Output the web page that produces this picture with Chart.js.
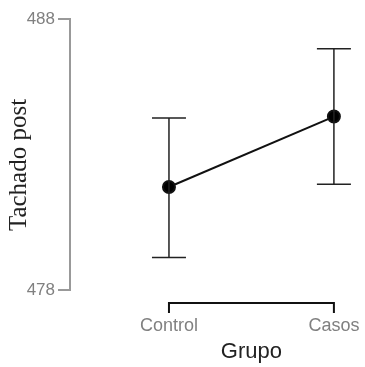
<!DOCTYPE html>
<html>
<head>
<meta charset="utf-8">
<script src="https://cdn.jsdelivr.net/npm/chart.js@4"></script>
<style>
  html, body { margin: 0; padding: 0; background: #fff; }
  #wrap { width: 365px; height: 367px; }
</style>
</head>
<body>
<div id="wrap"><canvas id="myChart"></canvas></div>
<script>
// groups and their means with the error bar limits
const grupos = ['Control', 'Casos'];
const medias = [481.8, 484.4];
const inferior = [479.2, 481.9];
const superior = [484.35, 486.9];
const yTicks = [478, 488];

// error bars, the bracket x axis and the free texts
const extras = {
    id: 'extras',
    afterDatasetsDraw(chart) {
        const ctx = chart.ctx;
        const x = chart.scales.x;
        const y = chart.scales.y;
        ctx.save();
        ctx.strokeStyle = '#222';
        ctx.lineWidth = 1.5;
        for (let i = 0; i < grupos.length; i++) {
            const px = x.getPixelForValue(i);
            const top = y.getPixelForValue(superior[i]);
            const bot = y.getPixelForValue(inferior[i]);
            ctx.beginPath();
            ctx.moveTo(px, top); ctx.lineTo(px, bot);
            ctx.moveTo(px - 17, top); ctx.lineTo(px + 17, top);
            ctx.moveTo(px - 17, bot); ctx.lineTo(px + 17, bot);
            ctx.stroke();
        }
        ctx.restore();
    },
    afterDraw(chart) {
        const ctx = chart.ctx;
        const x = chart.scales.x;
        const area = chart.chartArea;
        const x0 = x.getPixelForValue(0);
        const x1 = x.getPixelForValue(grupos.length - 1);
        const yb = area.bottom + 13;
        ctx.save();
        ctx.strokeStyle = '#111';
        ctx.lineWidth = 2;
        ctx.beginPath();
        ctx.moveTo(x0, yb + 10); ctx.lineTo(x0, yb); ctx.lineTo(x1, yb); ctx.lineTo(x1, yb + 10);
        ctx.stroke();

        ctx.fillStyle = '#222';
        ctx.font = '22px "Liberation Sans", Arial, sans-serif';
        ctx.textAlign = 'center';
        ctx.textBaseline = 'middle';
        ctx.fillText('Grupo', (x0 + x1) / 2, 352);

        ctx.translate(19, 165);
        ctx.rotate(-Math.PI / 2);
        ctx.font = '25px "Liberation Serif", "Times New Roman", serif';
        ctx.fillText('Tachado post', 0, 0);
        ctx.restore();
    }
};

const ctx = document.getElementById('myChart').getContext('2d');
const myChart = new Chart(ctx, {
    type: 'line',
    data: {
        datasets: [{
            data: medias.map((m, i) => ({ x: i, y: m })),
            borderColor: '#111',
            borderWidth: 2,
            backgroundColor: '#000',
            pointRadius: 6,
            pointHoverRadius: 6,
            clip: false
        }]
    },
    options: {
        responsive: true,
        maintainAspectRatio: false,
        animation: false,
        events: [],
        layout: { padding: { top: 19, right: 5, left: 0, bottom: 0 } },
        plugins: { legend: { display: false }, tooltip: { enabled: false } },
        scales: {
            x: {
                type: 'linear',
                min: -0.6,
                max: 1.14,
                afterBuildTicks: (s) => { s.ticks = grupos.map((g, i) => ({ value: i })); },
                afterFit: (s) => { s.height = 77; s.paddingLeft = 0; s.paddingRight = 0; },
                grid: { display: false, drawTicks: false },
                border: { display: false },
                ticks: {
                    padding: 25,
                    color: '#808080',
                    font: { family: '"Liberation Sans", Arial, sans-serif', size: 18 },
                    callback: (v) => grupos[v]
                }
            },
            y: {
                min: yTicks[0],
                max: yTicks[yTicks.length - 1],
                afterBuildTicks: (s) => { s.ticks = yTicks.map(v => ({ value: v })); },
                afterFit: (s) => { s.width = 70; },
                grid: { drawOnChartArea: false, tickLength: 12, color: '#999', lineWidth: 2 },
                border: { color: '#999', width: 2 },
                ticks: {
                    padding: 3,
                    color: '#808080',
                    font: { family: '"Liberation Sans", Arial, sans-serif', size: 17 }
                }
            }
        }
    },
    plugins: [extras]
});
</script>
</body>
</html>
